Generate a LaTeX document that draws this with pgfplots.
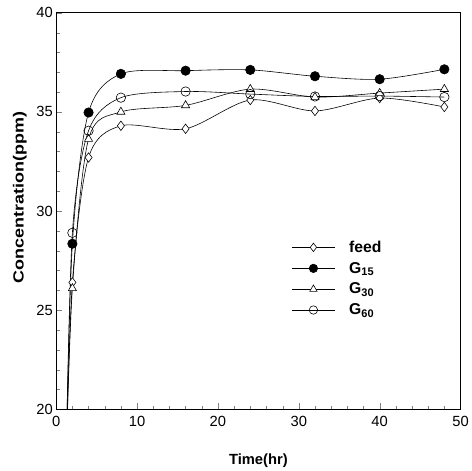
\documentclass[border=0pt]{standalone}
\usepackage{graphicx}
\usepackage{pgfplots}
\pgfplotsset{compat=1.18}
\usetikzlibrary{calc}
\usepackage{fontspec}
\setmainfont{Liberation Sans}
\begin{document}
\begin{tikzpicture}[x=1bp,y=1bp]
\begin{axis}[
  name=ax,
  scale only axis,
  width=410bp, height=402bp,
  xmin=0, xmax=50, ymin=20, ymax=40,
  xtick={0,10,20,30,40,50},
  ytick={20,25,30,35,40},
  minor x tick num=4,
  minor y tick num=4,
  tick pos=left,
  tick align=inside,
  major tick length=6bp,
  minor tick length=3.5bp,
  axis line style={line width=1pt},
  /pgf/number format/assume math mode=true,
  tick label style={font=\fontsize{15}{17}\selectfont},
  xticklabel style={yshift=-4bp},
  xlabel={Time(hr)},
  ylabel={\scalebox{1.22}[1]{Concentration(ppm)}},
  label style={font=\bfseries\fontsize{15}{17}\selectfont},
  xlabel style={at={(ticklabel cs:0.5)}, anchor=north, yshift=-20bp},
  ylabel style={at={(ticklabel cs:0.535)}, anchor=south, yshift=3bp},
  every axis plot/.append style={black, line width=0.6pt, smooth, tension=0.5, mark size=4.8pt, mark options={solid, line width=0.6pt}},
  legend style={draw=none, fill=none, at={(axis cs:28.7,28.7)}, anchor=north west,
    font=\bfseries\fontsize{16}{18}\selectfont, row sep=4.5bp, column sep=12bp,
    legend cell align=left},
  legend image code/.code={\draw[mark repeat=2,mark phase=2, mark size=4.3pt] plot coordinates {(0bp,0bp) (22bp,0bp) (44bp,0bp)};},
]
\addplot[mark=diamond*, mark options={fill=white}] coordinates {
(1.2,17) (2,26.4) (4,32.7) (8,34.3) (16,34.15) (24,35.6) (32,35.05) (40,35.7) (48,35.25)};
\addlegendentry{feed}
\addplot[mark=*, mark options={fill=black}] coordinates {
(1.2,17) (2,28.35) (4,34.97) (8,36.92) (16,37.08) (24,37.12) (32,36.8) (40,36.65) (48,37.15)};
\addlegendentry{G\textsubscript{15}}
\addplot[mark=triangle*, mark options={fill=white}] coordinates {
(1.2,17) (2,26.1) (4,33.63) (8,35.0) (16,35.33) (24,36.15) (32,35.75) (40,35.95) (48,36.15)};
\addlegendentry{G\textsubscript{30}}
\addplot[mark=o] coordinates {
(1.2,17) (2,28.9) (4,34.05) (8,35.72) (16,36.03) (24,35.9) (32,35.78) (40,35.8) (48,35.75)};
\addlegendentry{G\textsubscript{60}}
\end{axis}
\useasboundingbox ($(ax.south west)+(-57bp,-57bp)$) rectangle ($(ax.north east)+(4bp,13bp)$);
\end{tikzpicture}
\end{document}
